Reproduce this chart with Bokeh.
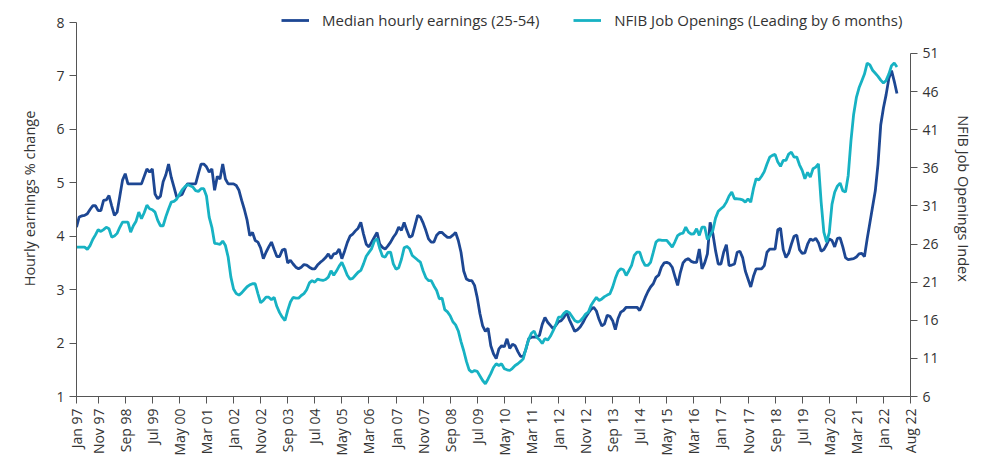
import numpy as np
from bokeh.plotting import figure
from bokeh.models import Range1d, LinearAxis, FixedTicker, Legend, LegendItem, ColumnDataSource
from bokeh.embed import file_html
from bokeh.resources import INLINE

# month index: months since Jan 1997 (first observation ~ Mar 97)
start_month = 2

earnings = [
    4.17, 4.36, 4.38, 4.39, 4.42, 4.50, 4.57, 4.57, 4.48, 4.48,
    4.67, 4.68, 4.76, 4.57, 4.39, 4.45, 4.75, 5.05, 5.17, 4.98,
    4.98, 4.98, 4.98, 4.98, 4.98, 5.12, 5.26, 5.20, 5.26, 4.79,
    4.70, 4.75, 5.02, 5.15, 5.35, 5.10, 4.92, 4.73, 4.76, 4.78,
    4.90, 4.98, 4.98, 4.98, 4.98, 5.17, 5.35, 5.35, 5.30, 5.20,
    5.26, 4.86, 5.12, 5.07, 5.35, 5.07, 4.98, 4.98, 4.98, 4.95,
    4.86, 4.67, 4.50, 4.30, 4.01, 4.07, 3.92, 3.89, 3.78, 3.58,
    3.70, 3.80, 3.89, 3.75, 3.62, 3.62, 3.74, 3.76, 3.50, 3.55,
    3.48, 3.42, 3.39, 3.42, 3.47, 3.46, 3.42, 3.39, 3.39, 3.46,
    3.51, 3.55, 3.60, 3.67, 3.58, 3.67, 3.68, 3.76, 3.58, 3.72,
    3.88, 4.00, 4.04, 4.10, 4.15, 4.26, 4.04, 3.85, 3.80, 3.89,
    3.98, 4.07, 3.85, 3.79, 3.76, 3.82, 3.89, 3.98, 4.05, 4.17,
    4.11, 4.26, 4.11, 3.98, 4.01, 4.20, 4.39, 4.36, 4.25, 4.11,
    3.95, 3.89, 3.89, 4.02, 4.07, 4.07, 4.02, 3.98, 3.98, 4.02,
    4.07, 3.92, 3.70, 3.35, 3.20, 3.17, 3.17, 3.08, 2.85, 2.55,
    2.32, 2.22, 2.28, 1.95, 1.80, 1.71, 1.89, 1.95, 1.93, 2.08,
    1.90, 1.98, 1.95, 1.84, 1.75, 1.75, 1.89, 2.08, 2.11, 2.11,
    2.11, 2.15, 2.35, 2.48, 2.39, 2.33, 2.27, 2.33, 2.40, 2.42,
    2.48, 2.58, 2.44, 2.33, 2.22, 2.25, 2.30, 2.38, 2.48, 2.56,
    2.63, 2.67, 2.60, 2.44, 2.32, 2.36, 2.52, 2.50, 2.42, 2.25,
    2.46, 2.58, 2.61, 2.67, 2.67, 2.67, 2.67, 2.67, 2.61, 2.72,
    2.85, 2.96, 3.05, 3.11, 3.23, 3.27, 3.42, 3.50, 3.51, 3.49,
    3.42, 3.25, 3.08, 3.32, 3.50, 3.56, 3.58, 3.53, 3.51, 3.51,
    3.76, 3.39, 3.50, 3.67, 4.26, 4.05, 3.73, 3.48, 3.48, 3.70,
    3.84, 3.45, 3.46, 3.48, 3.70, 3.72, 3.60, 3.35, 3.20, 3.05,
    3.25, 3.39, 3.39, 3.39, 3.45, 3.70, 3.76, 3.76, 3.76, 4.12,
    4.15, 3.75, 3.60, 3.68, 3.85, 4.00, 4.02, 3.75, 3.68, 3.69,
    3.85, 3.95, 3.92, 3.96, 3.88, 3.72, 3.75, 3.84, 3.95, 3.92,
    3.80, 3.96, 3.97, 3.80, 3.60, 3.56, 3.57, 3.58, 3.61, 3.67,
    3.68, 3.62, 3.95, 4.25, 4.55, 4.85, 5.35, 6.08, 6.40, 6.65,
    6.95, 7.10, 6.90, 6.67,
]

nfib = [
    25.59, 25.59, 25.59, 25.59, 25.30, 25.80, 26.60, 27.20, 27.88, 27.65,
    27.90, 28.20, 28.01, 26.91, 27.05, 27.40, 28.20, 28.88, 28.88, 28.88,
    27.57, 28.40, 29.00, 30.19, 29.32, 30.10, 31.10, 30.63, 30.50, 30.19,
    29.10, 28.40, 28.40, 29.60, 30.60, 31.50, 31.60, 31.90, 32.50, 33.10,
    33.50, 33.82, 33.65, 33.47, 33.00, 32.90, 33.26, 33.26, 32.30, 29.53,
    28.20, 26.10, 26.04, 25.95, 26.40, 25.80, 24.30, 21.70, 20.10, 19.50,
    19.30, 19.60, 20.00, 20.40, 20.65, 20.79, 20.79, 19.50, 18.30, 18.60,
    19.03, 19.03, 18.70, 19.00, 17.80, 17.00, 16.40, 15.97, 17.29, 18.40,
    19.00, 18.90, 18.90, 19.25, 19.50, 20.00, 20.90, 21.20, 21.00, 21.40,
    21.30, 21.22, 21.35, 21.66, 22.50, 21.90, 22.45, 23.10, 23.60, 22.80,
    21.90, 21.40, 21.50, 21.90, 22.30, 22.54, 23.40, 24.40, 24.90, 25.40,
    26.40, 26.70, 25.40, 24.40, 24.28, 24.90, 24.94, 23.40, 22.70, 22.90,
    24.00, 25.50, 25.69, 25.38, 24.50, 24.20, 23.90, 23.63, 22.50, 21.60,
    21.20, 21.20, 20.50, 19.91, 18.80, 18.90, 17.40, 17.10, 16.60, 15.80,
    15.40, 14.60, 13.20, 12.00, 10.60, 9.50, 9.20, 9.40, 9.30, 8.70,
    8.10, 7.67, 8.30, 9.00, 9.80, 10.29, 10.07, 10.29, 9.64, 9.50,
    9.41, 9.70, 10.07, 10.30, 10.60, 10.95, 12.30, 13.50, 14.30, 14.60,
    13.78, 13.44, 12.95, 13.60, 13.40, 13.90, 14.60, 15.40, 16.41, 16.41,
    16.90, 17.20, 17.00, 16.50, 15.97, 15.75, 15.90, 16.30, 16.80, 17.06,
    17.94, 18.50, 19.00, 18.60, 18.80, 19.10, 19.30, 19.48, 20.35, 21.50,
    22.40, 22.76, 22.63, 21.88, 22.50, 23.20, 24.50, 24.94, 24.94, 23.85,
    23.19, 23.19, 23.60, 24.90, 26.25, 26.56, 26.50, 26.47, 26.47, 26.04,
    25.59, 26.30, 27.10, 27.35, 27.44, 28.22, 27.57, 27.30, 27.35, 28.01,
    27.13, 28.22, 28.22, 26.60, 27.13, 27.80, 29.40, 30.30, 30.63, 30.93,
    31.50, 32.30, 32.81, 31.94, 31.94, 31.90, 31.80, 31.50, 31.94, 31.50,
    33.26, 34.57, 34.40, 34.90, 35.50, 36.50, 37.40, 37.63, 37.76, 36.75,
    36.20, 36.97, 36.97, 37.80, 38.06, 37.40, 37.41, 36.40, 35.66, 34.57,
    35.40, 34.78, 35.88, 36.09, 36.53, 31.50, 27.57, 26.25, 27.50, 31.20,
    32.80, 33.60, 34.00, 33.00, 32.81, 35.00, 39.50, 43.00, 45.20, 46.50,
    47.40, 48.30, 49.74, 49.50, 48.80, 48.40, 48.00, 47.50, 47.12, 47.47,
    48.30, 49.40, 49.74, 49.22,
]

tick_labels = [
    "Jan 97", "Nov 97", "Sep 98", "Jul 99", "May 00", "Mar 01", "Jan 02", "Nov 02",
    "Sep 03", "Jul 04", "May 05", "Mar 06", "Jan 07", "Nov 07", "Sep 08", "Jul 09",
    "May 10", "Mar 11", "Jan 12", "Nov 12", "Sep 13", "Jul 14", "May 15", "Mar 16",
    "Jan 17", "Nov 17", "Sep 18", "Jul 19", "May 20", "Mar 21", "Jan 22", "Aug 22",
]
end_month = 310

left_ticks = [1, 2, 3, 4, 5, 6, 7, 8]
right_ticks = [6, 11, 16, 21, 26, 31, 36, 41, 46, 51]

series_names = ["Median hourly earnings (25-54)", "NFIB Job Openings (Leading by 6 months)"]
colors = ["#1D4793", "#17B2C3"]

months = np.arange(start_month, start_month + len(earnings))
src = ColumnDataSource(data=dict(m=months, earn=earnings, nfib=nfib))

FONT = "Open Sans"
TXT = "#333333"
AX = "#555555"

# plot area extends above the top tick so the legend sits inside it
left_top = 8.412
right_top = 57.95

p = figure(width=989, height=459, output_backend="svg", toolbar_location=None,
           x_range=Range1d(start_month, end_month), y_range=Range1d(1, left_top),
           min_border_left=76, min_border_right=79, min_border_top=0, min_border_bottom=63)
p.extra_y_ranges = {"right": Range1d(6, right_top)}
p.outline_line_color = None
p.grid.visible = False
p.background_fill_color = "white"

# x ticks: first at data start, then every 10 months, last at axis end
tick_pos = [start_month] + list(range(10, 301, 10)) + [end_month]
p.xaxis.ticker = FixedTicker(ticks=tick_pos)
p.xaxis.major_label_overrides = {t: l for t, l in zip(tick_pos, tick_labels)}
p.xaxis.major_label_orientation = np.pi / 2

p.yaxis.ticker = FixedTicker(ticks=left_ticks)
p.yaxis.bounds = (1, 8)
p.yaxis.axis_label = "Hourly earnings % change"

right = LinearAxis(y_range_name="right", ticker=FixedTicker(ticks=right_ticks),
                   axis_label="NFIB Job Openings Index", bounds=(6, 51))
p.add_layout(right, "right")

for ax in p.axis:
    ax.axis_line_color = AX
    ax.major_tick_line_color = AX
    ax.minor_tick_line_color = None
    ax.major_tick_in = 0
    ax.major_tick_out = 7
    ax.major_label_text_font = FONT
    ax.major_label_text_font_size = "14px"
    ax.major_label_text_color = TXT
    ax.major_label_standoff = 5
    ax.axis_label_text_font = FONT
    ax.axis_label_text_font_size = "14.5px"
    ax.axis_label_text_color = TXT
    ax.axis_label_text_font_style = "normal"
    ax.axis_label_standoff = 14
right.axis_label_standoff = 12

r1 = p.line("m", "earn", source=src, line_color=colors[0], line_width=2.8)
r2 = p.line("m", "nfib", source=src, line_color=colors[1], line_width=2.8, y_range_name="right")

legend = Legend(items=[LegendItem(label=series_names[0], renderers=[r1]),
                       LegendItem(label=series_names[1], renderers=[r2])],
                orientation="horizontal", location=(205, 365),
                glyph_width=28, glyph_height=22, label_height=22, label_standoff=13, spacing=34,
                padding=0, margin=0, border_line_color=None, background_fill_alpha=0,
                label_text_font=FONT, label_text_font_size="15px", label_text_color=TXT)
p.add_layout(legend, "center")

open("out.html", "w").write(file_html(p, INLINE))
